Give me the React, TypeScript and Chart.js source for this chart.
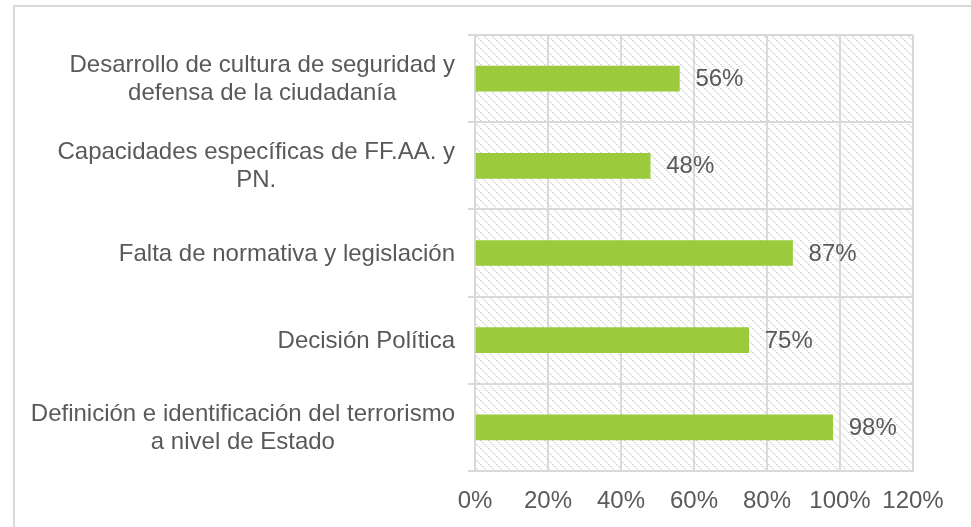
import React, { useEffect, useRef } from 'react';
import { Chart, registerables } from 'chart.js';

Chart.register(...registerables);

const categories: string[][] = [
  ['Desarrollo de cultura de seguridad y', 'defensa de la ciudadanía'],
  ['Capacidades específicas de FF.AA. y', 'PN.'],
  ['Falta de normativa y legislación'],
  ['Decisión Política'],
  ['Definición e identificación del terrorismo', 'a nivel de Estado'],
];
const values: number[] = [56, 48, 87, 75, 98];
const valueLabels: string[] = ['56%', '48%', '87%', '75%', '98%'];
const xTicks: number[] = [0, 20, 40, 60, 80, 100, 120];
const xTickLabels: string[] = ['0%', '20%', '40%', '60%', '80%', '100%', '120%'];

const FONT_FAMILY = '"Liberation Sans", Arial, sans-serif';
const FONT_SIZE = 24;
const TEXT_COLOR = '#595959';
const GRID_COLOR = '#d9d9d9';

function makePattern(ctx: CanvasRenderingContext2D): CanvasPattern | string {
  const c = document.createElement('canvas');
  c.width = 8;
  c.height = 8;
  const g = c.getContext('2d');
  if (!g) return '#ffffff';
  g.fillStyle = '#ffffff';
  g.fillRect(0, 0, 8, 8);
  for (let i = 0; i < 8; i++) {
    if (i % 2 === 0) {
      g.fillStyle = '#cfcfcf';
      g.fillRect(i, i, 1, 1);
      g.fillStyle = '#e4e4e4';
      g.fillRect((i + 1) % 8, i, 1, 1);
    } else {
      g.fillStyle = '#ececec';
      g.fillRect(i, i, 1, 1);
    }
  }
  return ctx.createPattern(c, 'repeat') || '#ffffff';
}

const backgroundPlugin = {
  id: 'bgHatch',
  beforeDraw(chart: any) {
    const { ctx, chartArea } = chart;
    ctx.save();
    ctx.fillStyle = '#ffffff';
    ctx.fillRect(0, 0, chart.width, chart.height);
    ctx.strokeStyle = GRID_COLOR;
    ctx.lineWidth = 2;
    ctx.strokeRect(14, 6, chart.width + 50, chart.height + 50);
    ctx.fillStyle = makePattern(ctx);
    ctx.fillRect(chartArea.left, chartArea.top, chartArea.right - chartArea.left, chartArea.bottom - chartArea.top);
    ctx.restore();
  },
};

const labelsPlugin = {
  id: 'customLabels',
  afterDatasetsDraw(chart: any) {
    const { ctx } = chart;
    const meta = chart.getDatasetMeta(0);
    ctx.save();
    ctx.font = `${FONT_SIZE}px ${FONT_FAMILY}`;
    ctx.fillStyle = TEXT_COLOR;
    ctx.textAlign = 'left';
    ctx.textBaseline = 'middle';
    meta.data.forEach((el: any, i: number) => {
      ctx.fillText(valueLabels[i], el.x + 16, el.y + 1);
    });
    const yScale = chart.scales.y;
    const rightEdge = yScale.right - 20;
    const lineH = 28;
    categories.forEach((lines, i) => {
      const cy = yScale.getPixelForValue(i);
      const maxW = Math.max(...lines.map((l) => ctx.measureText(l).width));
      const cx = rightEdge - maxW / 2;
      ctx.textAlign = 'center';
      lines.forEach((line, j) => {
        const y = cy + (j - (lines.length - 1) / 2) * lineH + 1;
        ctx.fillText(line, cx, y);
      });
    });
    ctx.restore();
  },
};

export default function App() {
  const canvasRef = useRef<HTMLCanvasElement | null>(null);

  useEffect(() => {
    const canvas = canvasRef.current;
    if (!canvas) return;
    const chart = new Chart(canvas, {
      type: 'bar',
      data: {
        labels: categories.map((c) => c.join(' ')),
        datasets: [
          {
            data: values,
            backgroundColor: '#9BCB3C',
            borderWidth: 0,
            barThickness: 25,
          },
        ],
      },
      options: {
        indexAxis: 'y',
        animation: false,
        responsive: false,
        devicePixelRatio: 1,
        layout: { padding: { left: 0, right: 58, top: 35, bottom: 0 } },
        plugins: {
          legend: { display: false },
          tooltip: { enabled: false },
        },
        scales: {
          x: {
            type: 'linear',
            min: 0,
            max: 120,
            afterBuildTicks: (scale: any) => {
              scale.ticks = xTicks.map((v) => ({ value: v }));
            },
            afterFit: (scale: any) => {
              scale.height = 56;
            },
            ticks: {
              padding: 16,
              color: TEXT_COLOR,
              font: { family: FONT_FAMILY, size: FONT_SIZE },
              callback: (v: any) => xTickLabels[xTicks.indexOf(Number(v))],
            },
            grid: {
              color: GRID_COLOR,
              lineWidth: 2,
              drawTicks: false,
            },
            border: { display: true, color: GRID_COLOR, width: 2 },
          },
          y: {
            type: 'category',
            afterFit: (scale: any) => {
              scale.width = 475;
            },
            ticks: { display: false },
            grid: {
              color: GRID_COLOR,
              lineWidth: 2,
              offset: true,
              drawTicks: true,
              tickLength: 7,
            },
            border: { display: true, color: GRID_COLOR, width: 2 },
          },
        },
      },
      plugins: [backgroundPlugin, labelsPlugin],
    } as any);
    return () => chart.destroy();
  }, []);

  return (
    <div style={{ position: 'fixed', left: 0, top: 0, width: 971, height: 527 }}>
      <canvas ref={canvasRef} width={971} height={527} style={{ display: 'block' }} />
    </div>
  );
}
